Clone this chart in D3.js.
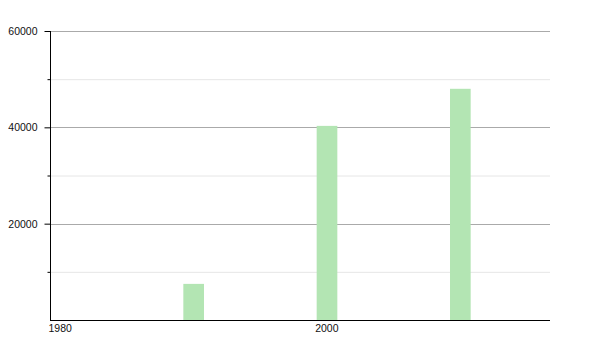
<!DOCTYPE html>
<html><head><meta charset="utf-8">
<script src="https://cdn.jsdelivr.net/npm/d3@7"></script>
<style>body{margin:0;background:#fff}</style>
</head><body>
<svg id="c" width="600" height="350"></svg>
<script>
const years = [1990, 2000, 2010];
const values = [7500, 40300, 48000];
const xTickYears = [1980, 2000];
const yMajorTicks = [20000, 40000, 60000];
const yMinorTicks = [10000, 30000, 50000];

const svg = d3.select("#c");
const m = {l:50, r:50, t:31, b:30};
const W = 600, H = 350;
const x = d3.scaleLinear().domain([1980, 2017.5]).range([m.l, W - m.r]);
const y = d3.scaleLinear().domain([0, 60000]).range([H - m.b, m.t]);
const font = "Liberation Sans, Arial, sans-serif";

// grid
svg.append("g").selectAll("line").data(yMinorTicks).join("line")
  .attr("x1", m.l).attr("x2", W - m.r)
  .attr("y1", d => y(d) + 0.5).attr("y2", d => y(d) + 0.5)
  .attr("stroke", "#e6e6e6").attr("stroke-width", 1);
svg.append("g").selectAll("line").data(yMajorTicks).join("line")
  .attr("x1", m.l).attr("x2", W - m.r)
  .attr("y1", d => Math.round(y(d)) + 0.5).attr("y2", d => Math.round(y(d)) + 0.5)
  .attr("stroke", "#aaaaaa").attr("stroke-width", 1);

// bars
svg.append("g").selectAll("rect").data(years).join("rect")
  .attr("x", d => x(d))
  .attr("width", d => x(d + 1.55) - x(d))
  .attr("y", (d, i) => y(values[i]))
  .attr("height", (d, i) => y(0) - y(values[i]))
  .attr("fill", "#b3e5b3");

// y axis
const yAxis = d3.axisLeft(y).tickValues(yMajorTicks).tickSize(6).tickPadding(7)
  .tickFormat(d3.format("d"));
const gy = svg.append("g").attr("transform", `translate(${m.l + 0.5},0)`).call(yAxis);
gy.select(".domain").remove();
gy.selectAll("text").attr("font-family", font).attr("font-size", "10.5px").attr("fill", "#111");
gy.selectAll(".tick line").attr("stroke", "#000");
const yMinor = d3.axisLeft(y).tickValues(yMinorTicks).tickSize(3).tickFormat("");
const gym = svg.append("g").attr("transform", `translate(${m.l + 0.5},0)`).call(yMinor);
gym.select(".domain").remove();
gym.selectAll(".tick line").attr("stroke", "#000");
svg.append("line").attr("x1", m.l + 0.5).attr("x2", m.l + 0.5)
  .attr("y1", m.t).attr("y2", H - m.b + 0.5).attr("stroke", "#000");

// x axis
svg.append("line").attr("x1", m.l).attr("x2", W - m.r)
  .attr("y1", H - m.b + 0.5).attr("y2", H - m.b + 0.5).attr("stroke", "#000");
const xAxis = d3.axisBottom(x).tickValues(xTickYears).tickSize(0).tickPadding(4)
  .tickFormat(d3.format("d"));
const gx = svg.append("g").attr("transform", `translate(0,${H - m.b + 0.5})`).call(xAxis);
gx.select(".domain").remove();
gx.selectAll("text").attr("font-family", font).attr("font-size", "10.5px").attr("fill", "#111")
  .attr("text-anchor", "start").attr("dx", "-2");
</script>
</body></html>
